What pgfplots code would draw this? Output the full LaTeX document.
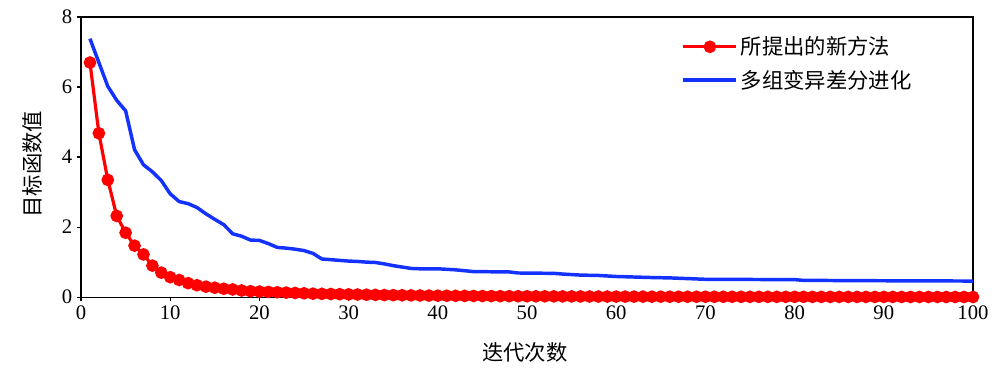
\documentclass[border=0pt]{standalone}
\usepackage{fontspec}
\setmainfont{Liberation Serif}
\newfontfamily\tnr{Liberation Serif}
\newfontfamily\cjk{Noto Sans CJK SC}
\usepackage{pgfplots}
\pgfplotsset{compat=1.18}
\definecolor{myblue}{RGB}{20,50,255}
\definecolor{myred}{RGB}{255,0,0}
\begin{document}
\begin{tikzpicture}[font=\tnr]
\begin{axis}[
  scale only axis, width=668.6pt, height=210pt,
  xmin=0, xmax=100, ymin=0, ymax=8,
  xtick={0,10,20,30,40,50,60,70,80,90,100}, ytick={0,2,4,6,8},
  xticklabels={{\tnr 0},{\tnr 10},{\tnr 20},{\tnr 30},{\tnr 40},{\tnr 50},{\tnr 60},{\tnr 70},{\tnr 80},{\tnr 90},{\tnr 100}},
  yticklabels={{\tnr 0},{\tnr 2},{\tnr 4},{\tnr 6},{\tnr 8}},
  tick align=outside, xtick pos=bottom, ytick pos=left,
  major tick length=3pt,
  axis line style={line width=0.9pt}, tick style={line width=0.9pt, black},
  tick label style={font=\tnr\fontsize{15.5}{16}\selectfont},
  xlabel={\cjk 迭代次数}, ylabel={\cjk 目标函数值},
  label style={font=\fontsize{16}{16}\selectfont},
  xlabel style={at={(axis description cs:0.4975,-0.196)}, anchor=center},
  ylabel style={at={(axis description cs:-0.0544,0.475)}, anchor=center, rotate=0},
  legend style={draw=none, fill=none, at={(0.673,0.94)}, anchor=north west,
    font=\fontsize{16}{16}\selectfont, row sep=6pt, inner sep=0pt},
  legend cell align=left,
  legend image code/.code={\draw[mark repeat=2,mark phase=2,#1] plot coordinates {(0cm,0cm) (0.7cm,0cm) (1.4cm,0cm)};},
]
\addplot[myred, line width=2.4pt, mark=*, mark size=3.5pt, mark options={solid}] coordinates {
(1,6.70)(2,4.68)(3,3.35)(4,2.32)(5,1.84)(6,1.47)(7,1.22)(8,0.90)(9,0.70)(10,0.57)
(11,0.49)(12,0.40)(13,0.34)(14,0.30)(15,0.27)(16,0.24)(17,0.22)(18,0.19)(19,0.17)(20,0.16)
(21,0.15)(22,0.14)(23,0.13)(24,0.12)(25,0.11)(26,0.10)(27,0.095)(28,0.09)(29,0.085)(30,0.08)
(31,0.075)(32,0.07)(33,0.065)(34,0.06)(35,0.057)(36,0.054)(37,0.051)(38,0.048)(39,0.045)(40,0.042)
(41,0.040)(42,0.038)(43,0.036)(44,0.034)(45,0.032)(46,0.030)(47,0.029)(48,0.028)(49,0.027)(50,0.026)
(51,0.025)(52,0.024)(53,0.023)(54,0.022)(55,0.021)(56,0.020)(57,0.019)(58,0.018)(59,0.017)(60,0.016)
(61,0.016)(62,0.015)(63,0.015)(64,0.014)(65,0.014)(66,0.013)(67,0.013)(68,0.012)(69,0.012)(70,0.012)
(71,0.011)(72,0.011)(73,0.011)(74,0.010)(75,0.010)(76,0.010)(77,0.010)(78,0.009)(79,0.009)(80,0.009)
(81,0.009)(82,0.008)(83,0.008)(84,0.008)(85,0.008)(86,0.008)(87,0.007)(88,0.007)(89,0.007)(90,0.007)
(91,0.007)(92,0.006)(93,0.006)(94,0.006)(95,0.006)(96,0.006)(97,0.005)(98,0.005)(99,0.005)(100,0.005)
};
\addlegendentry{\cjk 所提出的新方法}
\addplot[myblue, line width=2.6pt, mark=none] coordinates {
(1,7.38)(2,6.70)(3,6.02)(4,5.62)(5,5.32)(6,4.21)(7,3.78)(8,3.58)(9,3.33)(10,2.95)
(11,2.73)(12,2.67)(13,2.56)(14,2.38)(15,2.22)(16,2.07)(17,1.81)(18,1.74)(19,1.63)(20,1.62)
(21,1.53)(22,1.42)(23,1.40)(24,1.37)(25,1.33)(26,1.25)(27,1.09)(28,1.07)(29,1.05)(30,1.03)
(31,1.02)(32,1.00)(33,0.99)(34,0.95)(35,0.90)(36,0.86)(37,0.82)(38,0.81)(40,0.81)(42,0.78)
(44,0.73)(48,0.72)(49,0.69)(53,0.68)(54,0.66)(56,0.63)(58,0.62)(60,0.59)(64,0.56)(66,0.55)
(70,0.51)(80,0.50)(81,0.48)(88,0.47)(100,0.46)
};
\addlegendentry{\cjk 多组变异差分进化}
\coordinate (bl) at (rel axis cs:0,0);
\coordinate (tr) at (rel axis cs:1,1);
\end{axis}
\path ([shift={(-60.75pt,-60.75pt)}]bl) rectangle ([shift={(20.25pt,12.75pt)}]tr);
\end{tikzpicture}
\end{document}
